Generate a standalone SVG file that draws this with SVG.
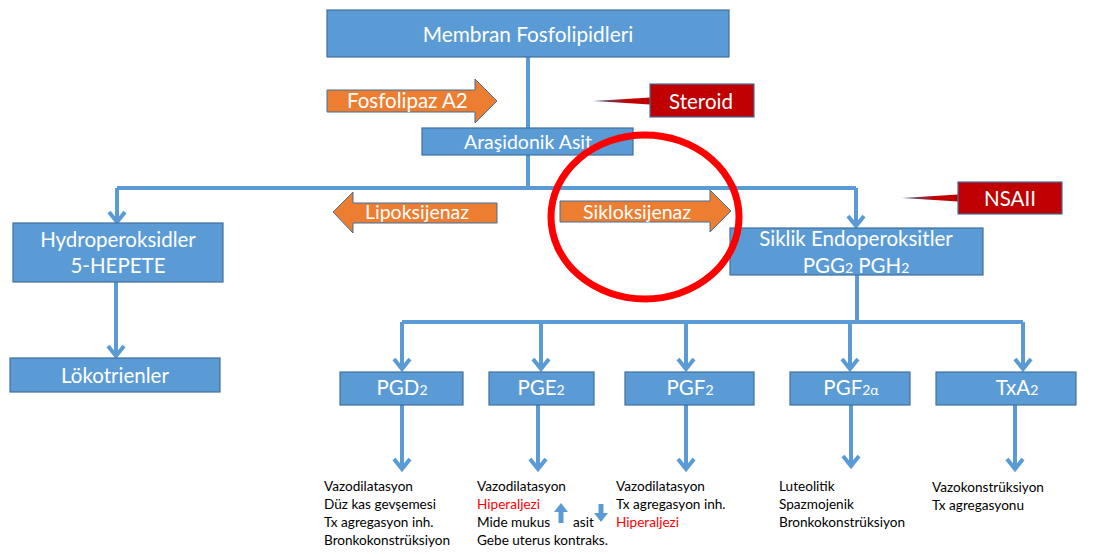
<svg xmlns="http://www.w3.org/2000/svg" width="1097" height="554" viewBox="0 0 1097 554">
<defs>
<style>
.box{fill:#5b9bd5;stroke:#41719c;stroke-width:1.2}
.red{fill:#c00000;stroke:#41719c;stroke-width:1.2}
.orange{fill:#ed7d31;stroke:#41719c;stroke-width:1}
.t{font-family:Lato,"Liberation Sans",sans-serif;fill:#ffffff;text-anchor:middle}
.tl{font-family:Lato,"Liberation Sans",sans-serif;fill:#ffffff}
.b{font-family:Lato,"Liberation Sans",sans-serif;fill:#000000;font-size:13.6px}
.hr{fill:#ff0000}
.ln{fill:none;stroke:#5b9bd5;stroke-width:4}
.arr{marker-end:url(#ah)}
.sub{font-size:14px}
</style>
<marker id="ah" markerUnits="userSpaceOnUse" markerWidth="30" markerHeight="30" viewBox="-15 -15 30 30" refX="0" refY="0" orient="auto" overflow="visible">
<path d="M-10,-8 L0,0 L-10,8" fill="none" stroke="#5b9bd5" stroke-width="4"/>
</marker>
<linearGradient id="pg" x1="0" y1="0" x2="1" y2="0">
<stop offset="0" stop-color="#41719c"/>
<stop offset="0.6" stop-color="#c00000"/>
<stop offset="1" stop-color="#c00000"/>
</linearGradient>
</defs>
<rect width="1097" height="554" fill="#ffffff"/>

<g id="connectors">
<path class="ln" d="M528,57 V128"/>
<path class="ln" d="M528,155 V188"/>
<path class="ln" d="M117,188 H856"/>
<path class="ln arr" d="M117,188 V222"/>
<path class="ln arr" d="M856,188 V226"/>
<path class="ln arr" d="M116,282 V356"/>
<path class="ln" d="M857,275 V322"/>
<path class="ln" d="M402,322 H1023"/>
<path class="ln arr" d="M402,322 V369"/>
<path class="ln arr" d="M541,322 V369"/>
<path class="ln arr" d="M686,322 V369"/>
<path class="ln arr" d="M850,322 V369"/>
<path class="ln arr" d="M1023,322 V369"/>
<path class="ln arr" d="M402,405 V469"/>
<path class="ln arr" d="M538,405 V469"/>
<path class="ln arr" d="M686,405 V469"/>
<path class="ln arr" d="M851,405 V466"/>
<path class="ln arr" d="M1015,405 V469"/>
</g>

<g id="membran">
<rect class="box" x="327" y="10" width="402" height="47"/>
<text class="t" x="528" y="42" font-size="20.8">Membran Fosfolipidleri</text>
</g>

<g id="fosfolipaz">
<polygon class="orange" points="327,90 475,90 475,79 497,101 475,123 475,112 327,112"/>
<text class="tl" x="347" y="108" font-size="20.5">Fosfolipaz A2</text>
</g>

<g id="steroid">
<polygon points="593,101 650,97.5 650,104.5" fill="url(#pg)"/>
<rect class="red" x="650" y="84" width="104" height="33"/>
<text class="t" x="701" y="109" font-size="20.5">Steroid</text>
</g>

<g id="arasidonik">
<rect class="box" x="422" y="128" width="211" height="27"/>
<text class="t" x="528" y="149" font-size="19.5">Araşidonik Asit</text>
</g>

<g id="lipoksijenaz">
<polygon class="orange" points="497,203 353,203 353,192 333,212 353,233 353,223 497,223"/>
<text class="tl" x="365" y="219" font-size="19.5">Lipoksijenaz</text>
</g>

<g id="sikloksijenaz">
<polygon class="orange" points="560,201 710,201 710,190 731,211 710,232 710,222 560,222"/>
<text class="tl" x="583" y="219" font-size="19.5">Sikloksijenaz</text>
</g>

<g id="nsaii">
<polygon points="902,198 958,194.5 958,201.5" fill="url(#pg)"/>
<rect class="red" x="958" y="182" width="104" height="32"/>
<text class="t" x="1010" y="206" font-size="20.5">NSAII</text>
</g>

<g id="hydroperoksidler">
<rect class="box" x="13" y="223" width="210" height="59"/>
<text class="t" x="118" y="247" font-size="20.5">Hydroperoksidler</text>
<text class="t" x="118" y="273" font-size="20.5">5-HEPETE</text>
</g>

<g id="lokotrienler">
<rect class="box" x="10" y="358" width="210" height="34"/>
<text class="t" x="115" y="383" font-size="20.5">Lökotrienler</text>
</g>

<g id="siklik">
<rect class="box" x="730" y="228" width="253" height="47"/>
<text class="t" x="856" y="246" font-size="20.5">Siklik Endoperoksitler</text>
<text class="t" x="856" y="273" font-size="20.5">PGG<tspan class="sub">2</tspan> PGH<tspan class="sub">2</tspan></text>
</g>

<g id="pgd2">
<rect class="box" x="340" y="372" width="123" height="33"/>
<text class="t" x="402" y="395" font-size="20.5">PGD<tspan class="sub">2</tspan></text>
<text class="b" x="324" y="491">Vazodilatasyon</text>
<text class="b" x="324" y="509">Düz kas gevşemesi</text>
<text class="b" x="324" y="527">Tx agregasyon inh.</text>
<text class="b" x="324" y="545">Bronkokonstrüksiyon</text>
</g>

<g id="pge2">
<rect class="box" x="489" y="372" width="105" height="33"/>
<text class="t" x="541" y="395" font-size="20.5">PGE<tspan class="sub">2</tspan></text>
<text class="b" x="477" y="491">Vazodilatasyon</text>
<text class="b hr" x="477" y="509">Hiperaljezi</text>
<text class="b" x="477" y="527">Mide mukus</text>
<text class="b" x="573" y="527">asit</text>
<text class="b" x="477" y="545">Gebe uterus kontraks.</text>
<polygon points="558.5,523 558.5,512 554,512 561,503 568,512 563.5,512 563.5,523" fill="#5b9bd5"/>
<polygon points="598.5,504 603.5,504 603.5,513 608,513 601,522 594,513 598.5,513" fill="#5b9bd5"/>
</g>

<g id="pgf2">
<rect class="box" x="625" y="372" width="129" height="33"/>
<text class="t" x="690" y="395" font-size="20.5">PGF<tspan class="sub">2</tspan></text>
<text class="b" x="616" y="491">Vazodilatasyon</text>
<text class="b" x="616" y="509">Tx agregasyon inh.</text>
<text class="b hr" x="616" y="527">Hiperaljezi</text>
</g>

<g id="pgf2a">
<rect class="box" x="790" y="372" width="120" height="33"/>
<text class="t" x="851" y="395" font-size="20.5">PGF<tspan class="sub">2α</tspan></text>
<text class="b" x="779" y="491">Luteolitik</text>
<text class="b" x="779" y="509">Spazmojenik</text>
<text class="b" x="779" y="527">Bronkokonstrüksiyon</text>
</g>

<g id="txa2">
<rect class="box" x="936" y="372" width="140" height="33"/>
<text class="t" x="1017" y="395" font-size="20.5">TxA<tspan class="sub">2</tspan></text>
<text class="b" x="932" y="492">Vazokonstrüksiyon</text>
<text class="b" x="932" y="510">Tx agregasyonu</text>
</g>

<g id="highlight">
<ellipse cx="645" cy="217" rx="94" ry="82" fill="none" stroke="#ff0000" stroke-width="7"/>
</g>
</svg>
